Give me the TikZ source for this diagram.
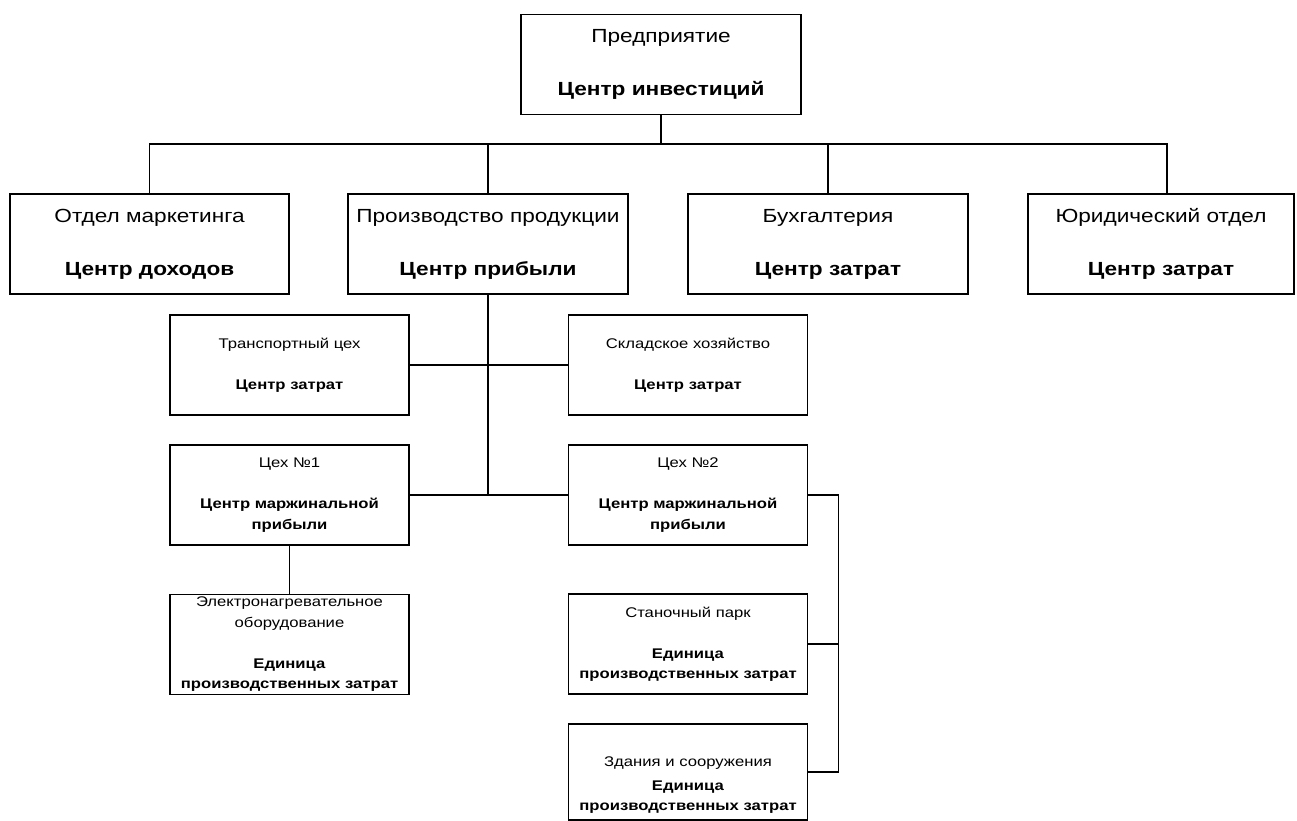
\documentclass[tikz,border=0pt]{standalone}
\usepackage{fontspec}
\setmainfont[FakeStretch=1.19]{Liberation Sans}
\usepackage{tikz}
\usetikzlibrary{
	positioning,
	calc
}

\tikzset{
	unitbox/.style={draw, line width=1.8pt, inner sep=0pt, align=center,
		minimum width=280pt, minimum height=100pt,
		font=\fontsize{19}{26.5}\selectfont},
	subbox/.style={draw, line width=1.8pt, inner sep=0pt, align=center,
		minimum width=239pt, minimum height=100pt,
		font=\fontsize{14}{20.5}\selectfont},
	link/.style={line width=1.8pt}
}

\begin{document}
\begin{tikzpicture}[x=1pt, y=-1pt]
		\useasboundingbox (0,0) rectangle (1297,820);

		% top level
		\node[unitbox] (top) at (661,64.5) {Предприятие\\[26.5pt]\textbf{Центр инвестиций}};

		% departments
		\node[unitbox, minimum width=279pt] (mkt) at (149.5,244) {Отдел маркетинга\\[26.5pt]\textbf{Центр доходов}};
		\node[unitbox] (prod) at (488,244) {Производство продукции\\[26.5pt]\textbf{Центр прибыли}};
		\node[unitbox] (acc) at (828,244) {Бухгалтерия\\[26.5pt]\textbf{Центр затрат}};
		\node[unitbox, minimum width=266pt] (law) at (1161,244) {Юридический отдел\\[26.5pt]\textbf{Центр затрат}};

		% inside production
		\node[subbox] (trans) at (289.5,365) {Транспортный цех\\[20.5pt]\textbf{Центр затрат}};
		\node[subbox] (store) at (688,365) {Складское хозяйство\\[20.5pt]\textbf{Центр затрат}};
		\node[subbox] (shopa) at (289.5,495) {Цех №1\\[20.5pt]\textbf{Центр маржинальной}\\\textbf{прибыли}};
		\node[subbox] (shopb) at (688,495) {Цех №2\\[20.5pt]\textbf{Центр маржинальной}\\\textbf{прибыли}};
		\node[subbox] (heat) at (289.5,644.5) {Электронагревательное\\оборудование\\[20.5pt]\textbf{Единица}\\\textbf{производственных затрат}};
		\node[subbox] (mach) at (688,644) {Станочный парк\\[20.5pt]\textbf{Единица}\\\textbf{производственных затрат}};
		\node[subbox, minimum height=96pt] (build) at (688,772) {\rule{0pt}{36pt}Здания и сооружения\\[3pt]\textbf{Единица}\\\textbf{производственных затрат}};

		\coordinate (bus) at (661,144);
		\coordinate (rail) at ($(shopb.east)+(30,0)$);

		\draw[link] (top) -- (bus);
		\draw[link] (mkt.north) |- (bus);
		\draw[link] (prod.north) |- (bus);
		\draw[link] (acc.north) |- (bus);
		\draw[link] ([xshift=6pt]law.north) |- (bus);

		\draw[link] (prod.south) -- (prod.south |- shopa.east);
		\draw[link] (trans.east) -- (store.west);
		\draw[link] (shopa.east) -- (shopb.west);
		\draw[link] (shopa) -- (heat);

		\draw[link] (shopb.east) -- (rail) |- (build.east);
		\draw[link] (mach.east) -- (mach.east -| rail);
	\end{tikzpicture}
\end{document}
